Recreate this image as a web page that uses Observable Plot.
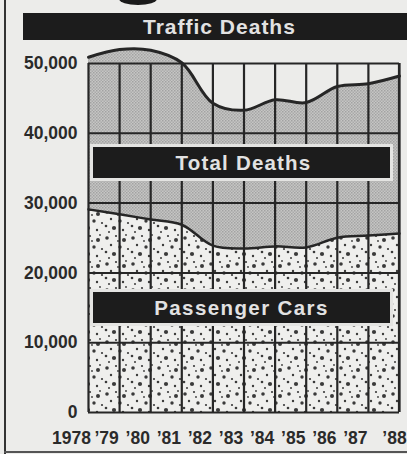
<!DOCTYPE html>
<html>
<head>
<meta charset="utf-8">
<script src="https://cdn.jsdelivr.net/npm/d3@7"></script>
<script src="https://cdn.jsdelivr.net/npm/@observablehq/plot@0.6"></script>
<style>
  html, body { margin: 0; padding: 0; background: #ececea; }
  #wrap { position: relative; width: 407px; height: 454px; overflow: hidden; font-family: "Liberation Sans", Arial, sans-serif; }
  .bar { position: absolute; background: #1c1c1c; color: #e2e2e2; font-weight: bold; text-align: center; white-space: nowrap; }
</style>
</head>
<body>
<div id="wrap"></div>
<script>
const years = [1978, 1979, 1980, 1981, 1982, 1983, 1984, 1985, 1986, 1987, 1988];
const totalDeaths = [50900, 52000, 51900, 50100, 44300, 43300, 44800, 44400, 46700, 47100, 48200];
const passengerCars = [29100, 28400, 27650, 26900, 23900, 23500, 23800, 23650, 25050, 25350, 25650];
const yTicks = [0, 10000, 20000, 30000, 40000, 50000];
const xTickLabels = ["1978", "’79", "’80", "’81", "’82", "’83", "’84", "’85", "’86", "’87", "’88"];
const title = "Traffic Deaths";
const seriesLabels = ["Total Deaths", "Passenger Cars"];

const data = years.map((y, i) => ({year: y, total: totalDeaths[i], cars: passengerCars[i]}));
const ink = "#262626";
const curve = "catmull-rom";
const fmtX = (d) => xTickLabels[years.indexOf(d)];
const xAxisOpts = {tickFormat: fmtX, tickSize: 0, tickPadding: 19, label: null, fontSize: "17.5px"};

const chart = Plot.plot({
  width: 407,
  height: 454,
  marginLeft: 88,
  marginRight: 8,
  marginTop: 63,
  marginBottom: 42,
  style: {background: "transparent", fontFamily: "'Liberation Sans', Arial, sans-serif", fontSize: "17.5px", fontWeight: "bold", color: "#2a2a2a"},
  x: {type: "linear", domain: [1978, 1988]},
  y: {domain: [0, 50000]},
  marks: [
    Plot.areaY(data, {x: "year", y: "total", fill: "url(#hatch)", curve}),
    Plot.areaY(data, {x: "year", y: "cars", fill: "url(#dots)", curve}),
    Plot.ruleX(years, {y1: 0, y2: 50000, stroke: ink, strokeWidth: 2.2}),
    Plot.ruleY(yTicks, {stroke: ink, strokeWidth: 2}),
    Plot.lineY(data, {x: "year", y: "total", stroke: ink, strokeWidth: 3, curve}),
    Plot.lineY(data, {x: "year", y: "cars", stroke: ink, strokeWidth: 2.5, curve}),
    Plot.axisY({ticks: yTicks, tickFormat: d3.format(","), tickSize: 0, tickPadding: 11, label: null, fontSize: "17.5px"}),
    Plot.axisX({...xAxisOpts, ticks: years.slice(0, 1), dx: -17}),
    Plot.axisX({...xAxisOpts, ticks: years.slice(1, -1), dx: -13}),
    Plot.axisX({...xAxisOpts, ticks: years.slice(-1), dx: -5})
  ]
});

const svg = d3.select(chart);
const defs = svg.insert("defs", ":first-child");
// grey crosshatch texture
const hatch = defs.append("pattern").attr("id", "hatch").attr("patternUnits", "userSpaceOnUse").attr("width", 3).attr("height", 3);
hatch.append("rect").attr("width", 3).attr("height", 3).attr("fill", "#c6c6c4");
hatch.append("rect").attr("x", 0).attr("y", 0).attr("width", 1.5).attr("height", 1.5).attr("fill", "#a2a2a2");
hatch.append("rect").attr("x", 1.5).attr("y", 1.5).attr("width", 1.5).attr("height", 1.5).attr("fill", "#aaaaaa");
// speckled texture
const dots = defs.append("pattern").attr("id", "dots").attr("patternUnits", "userSpaceOnUse").attr("width", 26).attr("height", 26);
dots.append("rect").attr("width", 26).attr("height", 26).attr("fill", "#efefed");
[[3,4,1.8],[12,2,1.1],[20,6,2],[7,11,1.2],[16,13,1.7],[24,15,1.1],[2,18,1.3],[10,20,2.1],[19,22,1.2],[14,7,0.9],[5,24,1],[22,1,0.9]]
  .forEach(([cx, cy, r]) => dots.append("circle").attr("cx", cx).attr("cy", cy).attr("r", r).attr("fill", "#3a3a3a"));

// frame right edge
svg.append("line").attr("x1", 399).attr("x2", 399).attr("y1", 63).attr("y2", 412).attr("stroke", ink).attr("stroke-width", 2.2);

const wrap = document.getElementById("wrap");
wrap.appendChild(chart);
chart.style.position = "absolute";
chart.style.left = "0";
chart.style.top = "0";

function box(text, left, top, w, h, fs, extra) {
  const d = document.createElement("div");
  d.className = "bar";
  d.textContent = text;
  Object.assign(d.style, {left: left + "px", top: top + "px", width: w + "px", height: h + "px", lineHeight: h + "px", fontSize: fs + "px"}, extra || {});
  wrap.appendChild(d);
}
const deco = (s) => { const d = document.createElement("div"); Object.assign(d.style, {position: "absolute"}, s); wrap.appendChild(d); };
deco({left: "4px", top: "0", width: "2px", height: "454px", background: "#333"});
deco({left: "4px", top: "451px", width: "403px", height: "2px", background: "#555"});
deco({left: "119px", top: "-7px", width: "38px", height: "12px", borderRadius: "50%", background: "#1a1a1a"});

box(title, 23, 13, 400, 27, 21, {letterSpacing: "1px", textAlign: "left", textIndent: "120px"});
box(seriesLabels[0], 93, 147, 297, 31, 20.5, {boxShadow: "0 0 0 3px #e4e4e2", letterSpacing: "1.2px", paddingLeft: "4px", boxSizing: "border-box"});
box(seriesLabels[1], 93, 292, 297, 31, 20.5, {boxShadow: "0 0 0 3px #e4e4e2", letterSpacing: "1.4px", boxSizing: "border-box"});
</script>
</body>
</html>
